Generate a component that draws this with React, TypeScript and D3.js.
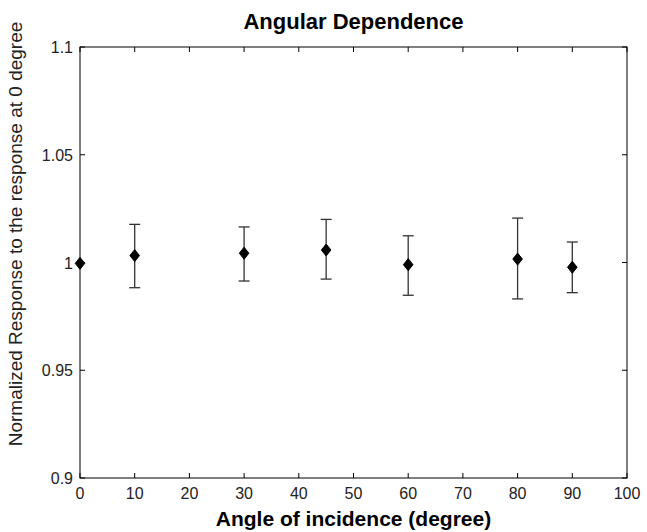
import React from "react";
import * as d3 from "d3";

const angles = [0, 10, 30, 45, 60, 80, 90];
const responses = [0.9996, 1.0032, 1.0043, 1.0058, 0.999, 1.0016, 0.9978];
const upper = [0.9996, 1.0177, 1.0165, 1.02, 1.0124, 1.0206, 1.0095];
const lower = [0.9996, 0.9883, 0.9914, 0.9923, 0.9848, 0.9831, 0.986];
const xTicks = [0, 10, 20, 30, 40, 50, 60, 70, 80, 90, 100];
const yTicks = [0.9, 0.95, 1, 1.05, 1.1];

const W = 647, H = 532;
const L = 80, R = 627, T = 47, B = 478;

export default function App() {
  const x = d3.scaleLinear().domain([0, 100]).range([L, R]);
  const y = d3.scaleLinear().domain([0.9, 1.1]).range([B, T]);
  const font = "'Liberation Sans', Arial, sans-serif";
  const diamond = (cx: number, cy: number) =>
    `M${cx},${cy - 6}L${cx + 4.8},${cy}L${cx},${cy + 6}L${cx - 4.8},${cy}Z`;
  const tl = 5;
  return (
    <svg width={W} height={H} style={{ position: "absolute", left: 0, top: 0, background: "#fff" }}>
      <rect x={0} y={0} width={W} height={H} fill="#fff" />
      <rect x={L} y={T} width={R - L} height={B - T} fill="none" stroke="#000" strokeWidth={1} />
      {xTicks.map((t) => (
        <g key={"x" + t}>
          <line x1={x(t)} x2={x(t)} y1={B} y2={B - tl} stroke="#000" />
          <line x1={x(t)} x2={x(t)} y1={T} y2={T + tl} stroke="#000" />
          <text x={x(t)} y={B + 21} textAnchor="middle" fontFamily={font} fontSize={16} fill="#222">
            {t}
          </text>
        </g>
      ))}
      {yTicks.map((t) => (
        <g key={"y" + t}>
          <line x1={L} x2={L + tl} y1={y(t)} y2={y(t)} stroke="#000" />
          <line x1={R} x2={R - tl} y1={y(t)} y2={y(t)} stroke="#000" />
          <text x={L - 7} y={y(t) + 6} textAnchor="end" fontFamily={font} fontSize={16} fill="#222">
            {t}
          </text>
        </g>
      ))}
      {angles.map((a, i) => {
        const cx = x(a);
        const hasErr = upper[i] - lower[i] > 1e-6;
        return (
          <g key={"p" + i}>
            {hasErr && (
              <g stroke="#333" strokeWidth={1.3}>
                <line x1={cx} x2={cx} y1={y(upper[i])} y2={y(lower[i])} />
                <line x1={cx - 5.5} x2={cx + 5.5} y1={y(upper[i])} y2={y(upper[i])} />
                <line x1={cx - 5.5} x2={cx + 5.5} y1={y(lower[i])} y2={y(lower[i])} />
              </g>
            )}
            <path d={diamond(cx, y(responses[i]))} fill="#000" stroke="#000" strokeWidth={1} />
          </g>
        );
      })}
      <text x={(L + R) / 2} y={29} textAnchor="middle" fontFamily={font} fontSize={22} fontWeight="bold" fill="#000">
        Angular Dependence
      </text>
      <text x={(L + R) / 2} y={526} textAnchor="middle" fontFamily={font} fontSize={21} fontWeight="bold" fill="#000">
        Angle of incidence (degree)
      </text>
      <text
        transform={`translate(22,234) rotate(-90)`}
        textAnchor="middle"
        fontFamily={font}
        fontSize={19}
        fill="#222"
      >
        Normalized Response to the response at 0 degree
      </text>
    </svg>
  );
}
